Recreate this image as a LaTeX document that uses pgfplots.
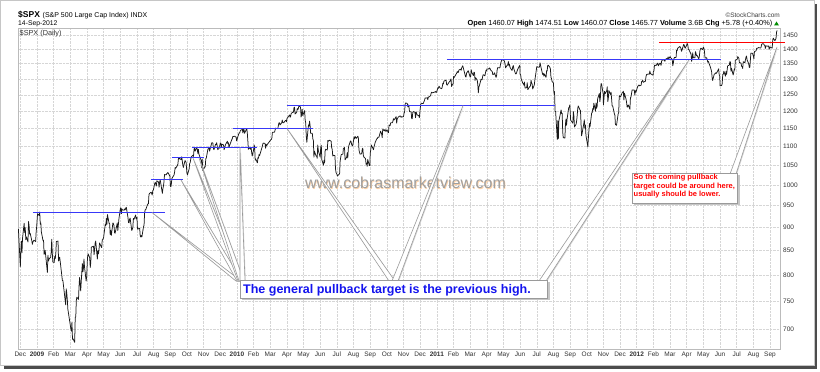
\documentclass[border=0pt]{standalone}
\usepackage{pgfplots}
\pgfplotsset{compat=1.18}
\usepackage{pgfplotstable}
\usepackage{fontspec}
\setmainfont{Liberation Sans}
\definecolor{gridc}{HTML}{D6D6D6}
\definecolor{framec}{HTML}{BBBBBB}
\definecolor{lineblue}{HTML}{3838F8}
\definecolor{txtblue}{HTML}{1414EE}
\definecolor{wedgec}{HTML}{9A9A9A}
\definecolor{tickc}{HTML}{333333}
\pgfplotstableread[row sep=\\]{
m d y\\
-2 28 896\\
-1 1 816\\ -1 2 848\\ -1 3 870\\ -1 4 845\\ -1 5 876\\ -1 8 909\\ -1 9 888\\ -1 10 899\\ -1 11 873\\ -1 12 879\\ -1 15 868\\ -1 16 913\\ -1 17 904\\ -1 18 885\\ -1 19 887\\ -1 22 871\\ -1 23 863\\ -1 24 868\\ -1 26 872\\ -1 29 869\\ -1 30 890\\ -1 31 903\\
0 2 931\\ 0 5 927\\ 0 6 935\\ 0 7 907\\ 0 8 910\\ 0 9 890\\ 0 12 871\\ 0 13 872\\ 0 14 842\\ 0 15 844\\ 0 16 850\\ 0 20 805\\ 0 21 840\\ 0 22 828\\ 0 23 832\\ 0 26 836\\ 0 27 846\\ 0 28 874\\ 0 29 845\\ 0 30 826\\
1 2 825\\ 1 3 838\\ 1 4 833\\ 1 5 845\\ 1 6 869\\ 1 9 870\\ 1 10 828\\ 1 11 834\\ 1 12 836\\ 1 13 827\\ 1 17 789\\ 1 18 789\\ 1 19 779\\ 1 20 770\\ 1 23 743\\ 1 24 773\\ 1 25 765\\ 1 26 753\\ 1 27 735\\
2 2 700\\ 2 3 696\\ 2 4 712\\ 2 5 682\\ 2 6 683\\ 2 9 677\\ 2 10 720\\ 2 11 721\\ 2 12 751\\ 2 13 757\\ 2 16 753\\ 2 17 778\\ 2 18 795\\ 2 19 784\\ 2 20 769\\ 2 23 823\\ 2 24 806\\ 2 25 813\\ 2 26 832\\ 2 27 816\\ 2 30 788\\ 2 31 798\\
3 1 811\\ 3 2 835\\ 3 3 843\\ 3 6 835\\ 3 7 815\\ 3 8 825\\ 3 9 857\\ 3 13 859\\ 3 14 841\\ 3 15 853\\ 3 16 866\\ 3 17 870\\ 3 20 832\\ 3 21 850\\ 3 22 843\\ 3 23 851\\ 3 24 866\\ 3 27 858\\ 3 28 856\\ 3 29 873\\ 3 30 873\\
4 1 878\\ 4 4 907\\ 4 5 904\\ 4 6 920\\ 4 7 907\\ 4 8 929\\ 4 11 909\\ 4 12 908\\ 4 13 884\\ 4 14 893\\ 4 15 882\\ 4 18 910\\ 4 19 908\\ 4 20 904\\ 4 21 888\\ 4 22 887\\ 4 26 910\\ 4 27 893\\ 4 28 906\\ 4 29 919\\
5 1 942\\ 5 2 945\\ 5 3 931\\ 5 4 942\\ 5 5 940\\ 5 8 939\\ 5 9 942\\ 5 10 940\\ 5 11 944\\ 5 12 946\\ 5 15 923\\ 5 16 911\\ 5 17 910\\ 5 18 918\\ 5 19 921\\ 5 22 893\\ 5 23 896\\ 5 24 900\\ 5 25 920\\ 5 26 918\\ 5 29 928\\ 5 30 919\\
6 1 923\\ 6 2 896\\ 6 6 898\\ 6 7 881\\ 6 8 879\\ 6 9 882\\ 6 10 879\\ 6 13 901\\ 6 14 905\\ 6 15 932\\ 6 16 940\\ 6 17 940\\ 6 20 951\\ 6 21 954\\ 6 22 954\\ 6 23 976\\ 6 24 979\\ 6 27 982\\ 6 28 979\\ 6 29 975\\ 6 30 986\\ 6 31 987\\
7 3 1003\\ 7 4 1006\\ 7 5 1003\\ 7 6 997\\ 7 7 1010\\ 7 10 1007\\ 7 11 994\\ 7 12 1006\\ 7 13 1013\\ 7 14 1005\\ 7 17 979\\ 7 18 990\\ 7 19 997\\ 7 20 1008\\ 7 21 1026\\ 7 24 1025\\ 7 25 1028\\ 7 26 1029\\ 7 27 1031\\ 7 28 1029\\ 7 31 1021\\
8 1 998\\ 8 2 995\\ 8 3 1003\\ 8 4 1016\\ 8 8 1025\\ 8 9 1033\\ 8 10 1044\\ 8 11 1042\\ 8 14 1049\\ 8 15 1053\\ 8 16 1068\\ 8 17 1066\\ 8 18 1068\\ 8 21 1064\\ 8 22 1072\\ 8 23 1061\\ 8 24 1050\\ 8 25 1044\\ 8 28 1062\\ 8 29 1060\\ 8 30 1057\\
9 1 1029\\ 9 2 1025\\ 9 5 1040\\ 9 6 1054\\ 9 7 1057\\ 9 8 1066\\ 9 9 1072\\ 9 12 1076\\ 9 13 1073\\ 9 14 1092\\ 9 15 1096\\ 9 16 1087\\ 9 19 1097\\ 9 20 1091\\ 9 21 1081\\ 9 22 1092\\ 9 23 1079\\ 9 26 1066\\ 9 27 1063\\ 9 28 1043\\ 9 29 1066\\ 9 30 1036\\
10 2 1042\\ 10 3 1046\\ 10 4 1045\\ 10 5 1066\\ 10 6 1069\\ 10 9 1093\\ 10 10 1093\\ 10 11 1098\\ 10 12 1087\\ 10 13 1093\\ 10 16 1110\\ 10 17 1110\\ 10 18 1109\\ 10 19 1094\\ 10 20 1091\\ 10 23 1106\\ 10 24 1105\\ 10 25 1110\\ 10 27 1091\\ 10 30 1096\\
11 1 1109\\ 11 2 1109\\ 11 3 1099\\ 11 4 1106\\ 11 7 1104\\ 11 8 1091\\ 11 9 1095\\ 11 10 1102\\ 11 11 1106\\ 11 14 1114\\ 11 15 1107\\ 11 16 1110\\ 11 17 1097\\ 11 18 1102\\ 11 21 1114\\ 11 22 1118\\ 11 23 1121\\ 11 24 1127\\ 11 28 1128\\ 11 29 1126\\ 11 30 1126\\ 11 31 1115\\
12 4 1133\\ 12 5 1137\\ 12 6 1137\\ 12 7 1142\\ 12 8 1145\\ 12 11 1147\\ 12 12 1137\\ 12 13 1146\\ 12 14 1148\\ 12 15 1136\\ 12 19 1150\\ 12 20 1138\\ 12 21 1116\\ 12 22 1092\\ 12 25 1097\\ 12 26 1092\\ 12 27 1097\\ 12 28 1084\\ 12 29 1074\\
13 1 1090\\ 13 2 1104\\ 13 3 1098\\ 13 4 1063\\ 13 5 1066\\ 13 8 1056\\ 13 9 1070\\ 13 10 1068\\ 13 11 1078\\ 13 12 1075\\ 13 16 1095\\ 13 17 1100\\ 13 18 1107\\ 13 19 1109\\ 13 22 1108\\ 13 23 1095\\ 13 24 1105\\ 13 25 1102\\ 13 26 1105\\
14 1 1116\\ 14 2 1118\\ 14 3 1119\\ 14 4 1123\\ 14 5 1139\\ 14 8 1139\\ 14 9 1140\\ 14 10 1146\\ 14 11 1151\\ 14 12 1150\\ 14 15 1150\\ 14 16 1159\\ 14 17 1166\\ 14 18 1166\\ 14 19 1160\\ 14 22 1166\\ 14 23 1174\\ 14 24 1167\\ 14 25 1166\\ 14 26 1167\\ 14 29 1173\\ 14 30 1173\\ 14 31 1169\\
15 1 1178\\ 15 5 1187\\ 15 6 1189\\ 15 7 1182\\ 15 8 1186\\ 15 9 1194\\ 15 12 1197\\ 15 13 1197\\ 15 14 1211\\ 15 15 1212\\ 15 16 1192\\ 15 19 1197\\ 15 20 1208\\ 15 21 1205\\ 15 22 1208\\ 15 23 1217\\ 15 26 1212\\ 15 27 1183\\ 15 28 1191\\ 15 29 1206\\ 15 30 1187\\
16 3 1202\\ 16 4 1173\\ 16 5 1166\\ 16 6 1128\\ 16 7 1111\\ 16 10 1160\\ 16 11 1156\\ 16 12 1171\\ 16 13 1158\\ 16 14 1136\\ 16 17 1136\\ 16 18 1121\\ 16 19 1116\\ 16 20 1071\\ 16 21 1087\\ 16 24 1074\\ 16 25 1074\\ 16 26 1068\\ 16 27 1104\\ 16 28 1089\\
17 1 1071\\ 17 2 1098\\ 17 3 1103\\ 17 4 1064\\ 17 7 1050\\ 17 8 1063\\ 17 9 1056\\ 17 10 1087\\ 17 11 1092\\ 17 14 1090\\ 17 15 1116\\ 17 16 1114\\ 17 17 1116\\ 17 18 1117\\ 17 21 1114\\ 17 22 1096\\ 17 23 1092\\ 17 24 1074\\ 17 25 1076\\ 17 28 1075\\ 17 29 1041\\ 17 30 1031\\
18 1 1027\\ 18 2 1022\\ 18 6 1028\\ 18 7 1060\\ 18 8 1070\\ 18 9 1078\\ 18 12 1079\\ 18 13 1095\\ 18 14 1095\\ 18 15 1097\\ 18 16 1064\\ 18 19 1071\\ 18 20 1083\\ 18 21 1069\\ 18 22 1094\\ 18 23 1102\\ 18 26 1115\\ 18 27 1113\\ 18 28 1106\\ 18 29 1102\\ 18 30 1101\\
19 2 1126\\ 19 3 1121\\ 19 4 1127\\ 19 5 1125\\ 19 6 1122\\ 19 9 1128\\ 19 10 1121\\ 19 11 1090\\ 19 12 1084\\ 19 13 1079\\ 19 16 1080\\ 19 17 1093\\ 19 18 1095\\ 19 19 1076\\ 19 20 1071\\ 19 23 1067\\ 19 24 1052\\ 19 25 1055\\ 19 26 1047\\ 19 27 1065\\ 19 30 1049\\ 19 31 1049\\
20 1 1080\\ 20 2 1090\\ 20 3 1104\\ 20 7 1091\\ 20 8 1099\\ 20 9 1104\\ 20 10 1110\\ 20 13 1121\\ 20 14 1121\\ 20 15 1125\\ 20 16 1125\\ 20 17 1125\\ 20 20 1142\\ 20 21 1139\\ 20 22 1134\\ 20 23 1124\\ 20 24 1148\\ 20 27 1143\\ 20 28 1147\\ 20 29 1145\\ 20 30 1141\\
21 1 1146\\ 21 4 1138\\ 21 5 1160\\ 21 6 1159\\ 21 7 1158\\ 21 8 1166\\ 21 11 1166\\ 21 12 1170\\ 21 13 1178\\ 21 14 1174\\ 21 15 1176\\ 21 18 1184\\ 21 19 1165\\ 21 20 1178\\ 21 21 1180\\ 21 22 1183\\ 21 25 1186\\ 21 26 1186\\ 21 27 1182\\ 21 28 1184\\ 21 29 1183\\
22 1 1184\\ 22 2 1194\\ 22 3 1198\\ 22 4 1221\\ 22 5 1225\\ 22 8 1223\\ 22 9 1213\\ 22 10 1219\\ 22 11 1214\\ 22 12 1199\\ 22 15 1198\\ 22 16 1178\\ 22 17 1178\\ 22 18 1197\\ 22 19 1199\\ 22 22 1197\\ 22 23 1181\\ 22 24 1198\\ 22 26 1189\\ 22 29 1187\\ 22 30 1181\\
23 1 1206\\ 23 2 1221\\ 23 3 1224\\ 23 6 1223\\ 23 7 1224\\ 23 8 1229\\ 23 9 1233\\ 23 10 1240\\ 23 13 1240\\ 23 14 1241\\ 23 15 1235\\ 23 16 1243\\ 23 17 1243\\ 23 20 1247\\ 23 21 1254\\ 23 22 1258\\ 23 23 1256\\ 23 27 1258\\ 23 28 1259\\ 23 29 1260\\ 23 30 1257\\ 23 31 1258\\
24 3 1272\\ 24 4 1270\\ 24 5 1277\\ 24 6 1274\\ 24 7 1271\\ 24 10 1269\\ 24 11 1275\\ 24 12 1286\\ 24 13 1284\\ 24 14 1293\\ 24 18 1296\\ 24 19 1282\\ 24 20 1280\\ 24 21 1283\\ 24 24 1291\\ 24 25 1292\\ 24 26 1297\\ 24 27 1300\\ 24 28 1276\\ 24 31 1286\\
25 1 1308\\ 25 2 1304\\ 25 3 1307\\ 25 4 1310\\ 25 7 1319\\ 25 8 1324\\ 25 9 1321\\ 25 10 1322\\ 25 11 1329\\ 25 14 1332\\ 25 15 1328\\ 25 16 1336\\ 25 17 1340\\ 25 18 1343\\ 25 22 1315\\ 25 23 1307\\ 25 24 1306\\ 25 25 1319\\ 25 28 1327\\
26 1 1306\\ 26 2 1308\\ 26 3 1330\\ 26 4 1321\\ 26 7 1311\\ 26 8 1322\\ 26 9 1320\\ 26 10 1295\\ 26 11 1304\\ 26 14 1296\\ 26 15 1282\\ 26 16 1256\\ 26 17 1274\\ 26 18 1279\\ 26 21 1299\\ 26 22 1297\\ 26 23 1298\\ 26 24 1309\\ 26 25 1314\\ 26 28 1310\\ 26 29 1319\\ 26 30 1328\\ 26 31 1326\\
27 1 1332\\ 27 4 1333\\ 27 5 1332\\ 27 6 1336\\ 27 7 1334\\ 27 8 1329\\ 27 11 1324\\ 27 12 1314\\ 27 13 1315\\ 27 14 1315\\ 27 15 1320\\ 27 18 1305\\ 27 19 1312\\ 27 20 1330\\ 27 21 1337\\ 27 25 1336\\ 27 26 1347\\ 27 27 1355\\ 27 28 1360\\ 27 29 1364\\
28 2 1361\\ 28 3 1357\\ 28 4 1348\\ 28 5 1336\\ 28 6 1340\\ 28 9 1347\\ 28 10 1357\\ 28 11 1343\\ 28 12 1348\\ 28 13 1338\\ 28 16 1329\\ 28 17 1328\\ 28 18 1340\\ 28 19 1344\\ 28 20 1333\\ 28 23 1317\\ 28 24 1316\\ 28 25 1320\\ 28 26 1326\\ 28 27 1331\\ 28 31 1345\\
29 1 1315\\ 29 2 1313\\ 29 3 1300\\ 29 6 1286\\ 29 7 1285\\ 29 8 1280\\ 29 9 1290\\ 29 10 1271\\ 29 13 1272\\ 29 14 1288\\ 29 15 1266\\ 29 16 1268\\ 29 17 1272\\ 29 20 1278\\ 29 21 1296\\ 29 22 1287\\ 29 23 1284\\ 29 24 1268\\ 29 27 1281\\ 29 28 1297\\ 29 29 1308\\ 29 30 1321\\
30 1 1340\\ 30 5 1338\\ 30 6 1339\\ 30 7 1353\\ 30 8 1344\\ 30 11 1320\\ 30 12 1314\\ 30 13 1318\\ 30 14 1309\\ 30 15 1316\\ 30 18 1305\\ 30 19 1327\\ 30 20 1326\\ 30 21 1344\\ 30 22 1345\\ 30 25 1338\\ 30 26 1332\\ 30 27 1305\\ 30 28 1301\\ 30 29 1292\\
31 1 1287\\ 31 2 1254\\ 31 3 1260\\ 31 4 1200\\ 31 5 1199\\ 31 8 1119\\ 31 9 1172\\ 31 10 1121\\ 31 11 1173\\ 31 12 1179\\ 31 15 1204\\ 31 16 1193\\ 31 17 1194\\ 31 18 1140\\ 31 19 1124\\ 31 22 1123\\ 31 23 1162\\ 31 24 1177\\ 31 25 1159\\ 31 26 1177\\ 31 29 1211\\ 31 30 1212\\ 31 31 1219\\
32 1 1204\\ 32 2 1174\\ 32 6 1165\\ 32 7 1199\\ 32 8 1186\\ 32 9 1154\\ 32 12 1162\\ 32 13 1172\\ 32 14 1188\\ 32 15 1209\\ 32 16 1216\\ 32 19 1204\\ 32 20 1202\\ 32 21 1166\\ 32 22 1129\\ 32 23 1136\\ 32 26 1163\\ 32 27 1175\\ 32 28 1151\\ 32 29 1160\\ 32 30 1131\\
33 3 1099\\ 33 4 1124\\ 33 5 1144\\ 33 6 1164\\ 33 7 1155\\ 33 10 1195\\ 33 11 1196\\ 33 12 1208\\ 33 13 1204\\ 33 14 1224\\ 33 17 1200\\ 33 18 1225\\ 33 19 1209\\ 33 20 1215\\ 33 21 1238\\ 33 24 1254\\ 33 25 1229\\ 33 26 1242\\ 33 27 1284\\ 33 28 1285\\ 33 31 1253\\
34 1 1219\\ 34 2 1238\\ 34 3 1261\\ 34 4 1253\\ 34 7 1262\\ 34 8 1275\\ 34 9 1229\\ 34 10 1239\\ 34 11 1263\\ 34 14 1251\\ 34 15 1258\\ 34 16 1237\\ 34 17 1216\\ 34 18 1216\\ 34 21 1193\\ 34 22 1188\\ 34 23 1161\\ 34 25 1159\\ 34 28 1192\\ 34 29 1196\\ 34 30 1247\\
35 1 1245\\ 35 2 1244\\ 35 5 1257\\ 35 6 1258\\ 35 7 1261\\ 35 8 1234\\ 35 9 1255\\ 35 12 1236\\ 35 13 1225\\ 35 14 1212\\ 35 15 1215\\ 35 16 1219\\ 35 19 1206\\ 35 20 1241\\ 35 21 1243\\ 35 22 1254\\ 35 23 1265\\ 35 27 1265\\ 35 28 1249\\ 35 29 1263\\ 35 30 1258\\
36 3 1277\\ 36 4 1278\\ 36 5 1281\\ 36 6 1278\\ 36 9 1280\\ 36 10 1292\\ 36 11 1292\\ 36 12 1296\\ 36 13 1289\\ 36 17 1293\\ 36 18 1308\\ 36 19 1314\\ 36 20 1315\\ 36 23 1316\\ 36 24 1315\\ 36 25 1326\\ 36 26 1318\\ 36 27 1316\\ 36 30 1313\\ 36 31 1312\\
37 1 1324\\ 37 2 1326\\ 37 3 1345\\ 37 6 1344\\ 37 7 1347\\ 37 8 1350\\ 37 9 1352\\ 37 10 1343\\ 37 13 1352\\ 37 14 1351\\ 37 15 1344\\ 37 16 1358\\ 37 17 1362\\ 37 21 1362\\ 37 22 1358\\ 37 23 1363\\ 37 24 1366\\ 37 27 1368\\ 37 28 1373\\ 37 29 1366\\
38 1 1374\\ 38 2 1370\\ 38 5 1364\\ 38 6 1343\\ 38 7 1352\\ 38 8 1366\\ 38 9 1371\\ 38 12 1371\\ 38 13 1396\\ 38 14 1394\\ 38 15 1403\\ 38 16 1404\\ 38 19 1409\\ 38 20 1405\\ 38 21 1402\\ 38 22 1392\\ 38 23 1397\\ 38 26 1416\\ 38 27 1413\\ 38 28 1405\\ 38 29 1403\\ 38 30 1408\\
39 2 1419\\ 39 3 1414\\ 39 4 1399\\ 39 5 1398\\ 39 9 1382\\ 39 10 1358\\ 39 11 1368\\ 39 12 1387\\ 39 13 1370\\ 39 16 1370\\ 39 17 1391\\ 39 18 1385\\ 39 19 1377\\ 39 20 1378\\ 39 23 1367\\ 39 24 1372\\ 39 25 1391\\ 39 26 1400\\ 39 27 1403\\ 39 30 1398\\
40 1 1406\\ 40 2 1403\\ 40 3 1392\\ 40 4 1369\\ 40 7 1370\\ 40 8 1364\\ 40 9 1355\\ 40 10 1358\\ 40 11 1353\\ 40 14 1338\\ 40 15 1331\\ 40 16 1325\\ 40 17 1305\\ 40 18 1295\\ 40 21 1316\\ 40 22 1316\\ 40 23 1318\\ 40 24 1320\\ 40 25 1318\\ 40 29 1333\\ 40 30 1313\\ 40 31 1310\\
41 1 1278\\ 41 4 1279\\ 41 5 1285\\ 41 6 1315\\ 41 7 1315\\ 41 8 1325\\ 41 11 1309\\ 41 12 1324\\ 41 13 1315\\ 41 14 1329\\ 41 15 1343\\ 41 18 1345\\ 41 19 1357\\ 41 20 1356\\ 41 21 1325\\ 41 22 1335\\ 41 25 1313\\ 41 26 1320\\ 41 27 1332\\ 41 28 1329\\ 41 29 1362\\
42 2 1365\\ 42 3 1374\\ 42 5 1368\\ 42 6 1354\\ 42 9 1352\\ 42 10 1341\\ 42 11 1341\\ 42 12 1334\\ 42 13 1357\\ 42 16 1353\\ 42 17 1363\\ 42 18 1372\\ 42 19 1376\\ 42 20 1363\\ 42 23 1350\\ 42 24 1338\\ 42 25 1337\\ 42 26 1361\\ 42 27 1386\\ 42 30 1385\\ 42 31 1379\\
43 1 1376\\ 43 2 1366\\ 43 3 1391\\ 43 6 1394\\ 43 7 1402\\ 43 8 1403\\ 43 9 1403\\ 43 10 1405\\ 43 13 1404\\ 43 14 1403\\ 43 15 1405\\ 43 16 1415\\ 43 17 1418\\ 43 20 1418\\ 43 21 1413\\ 43 22 1413\\ 43 23 1402\\ 43 24 1411\\ 43 27 1410\\ 43 28 1410\\ 43 29 1411\\ 43 30 1399\\ 43 31 1407\\
44 4 1404\\ 44 5 1403\\ 44 6 1432\\ 44 7 1438\\ 44 10 1429\\ 44 11 1433\\ 44 12 1437\\ 44 13 1460\\ 44 14 1466\\
}\spx

\newcommand{\callwedge}[6]{%
  \fill[gray!35] ($(#1,#2)+(0.8,0.8)$) -- ($(#3,#4)+(0.8,0.8)$) -- ($(#5,#6)+(0.8,0.8)$) -- cycle;
  \filldraw[fill=white,draw=wedgec,line width=0.6pt,line join=round] (#1,#2) -- (#3,#4) -- (#5,#6) -- cycle;}

\usetikzlibrary{calc}

\begin{document}
\begin{tikzpicture}[x=1pt,y=1pt]
% page and frame
\fill[white] (0,0) rectangle (820,372);
\begin{scope}[shift={(0,372)}, yscale=-1]
\fill[black!70] (4,365.5) rectangle (817,369.5);
\fill[black!70] (813.5,4) rectangle (817,369.5);
\fill[white] (1.2,1.2) rectangle (813.5,365.5);
\draw[gray!45, line width=1pt] (0.5,0.5) rectangle (814,366);
\end{scope}

\begin{semilogyaxis}[
  at={(18pt,23pt)}, anchor=south west, scale only axis,
  width=762pt, height=321pt,
  xmin=-1.14, xmax=44.6, ymin=666, ymax=1475,
  clip=false,
  axis line style={draw=framec, line width=0.6pt},
  major tick length=0pt,
  grid=major,
  grid style={densely dotted, draw=gridc, line width=0.5pt},
  xtick={-1,0,...,44},
  xticklabels={Dec,\textbf{2009},Feb,Mar,Apr,May,Jun,Jul,Aug,Sep,Oct,Nov,Dec,\textbf{2010},Feb,Mar,Apr,May,Jun,Jul,Aug,Sep,Oct,Nov,Dec,\textbf{2011},Feb,Mar,Apr,May,Jun,Jul,Aug,Sep,Oct,Nov,Dec,\textbf{2012},Feb,Mar,Apr,May,Jun,Jul,Aug,Sep},
  xticklabel style={font=\fontsize{6.5}{7}\selectfont, text=tickc, inner sep=1pt, yshift=-1.5pt},
  ytick={700,750,800,850,900,950,1000,1050,1100,1150,1200,1250,1300,1350,1400,1450},
  yticklabels={700,750,800,850,900,950,1000,1050,1100,1150,1200,1250,1300,1350,1400,1450},
  yticklabel pos=right,
  yticklabel style={font=\fontsize{6.5}{7}\selectfont, text=tickc, anchor=west, inner sep=1pt, xshift=2pt},
]
\addplot[black!90, line width=0.75pt, line join=round, no marks] table[x expr=\thisrow{m}+(\thisrow{d}-1)/30.5, y=y] {\spx};
\addplot[lineblue, line width=0.9pt, no marks] coordinates {(-0.24,934) (7.68,934)};
\addplot[lineblue, line width=0.9pt, no marks] coordinates {(6.84,1013) (8.76,1013)};
\addplot[lineblue, line width=0.9pt, no marks] coordinates {(8.10,1071) (10.02,1071)};
\addplot[lineblue, line width=0.9pt, no marks] coordinates {(9.30,1098) (13.21,1098)};
\addplot[lineblue, line width=0.9pt, no marks] coordinates {(11.76,1150) (16.57,1150)};
\addplot[lineblue, line width=0.9pt, no marks] coordinates {(15.00,1217) (31.09,1217)};
\addplot[lineblue, line width=0.9pt, no marks] coordinates {(24.61,1363) (41.06,1363)};
\addplot[red, line width=1.1pt, no marks] coordinates {(37.33,1422) (44.90,1422)};
\end{semilogyaxis}

\begin{scope}[shift={(0,372)}, yscale=-1]
% header
\node[anchor=base west, inner sep=0pt] at (18,18) {{\fontsize{8.5}{9}\selectfont\bfseries \$SPX} {\fontsize{7}{8}\selectfont (S\&P 500 Large Cap Index) INDX}};
\node[anchor=base west, inner sep=0pt, font=\fontsize{6.8}{7}\selectfont] at (18,25.8) {14-Sep-2012};
\node[anchor=base west, inner sep=0pt, font=\fontsize{7.3}{8}\selectfont, text=black!80] at (19.5,35.8) {\$SPX (Daily)};
\node[anchor=base east, inner sep=0pt, font=\fontsize{6.5}{7}\selectfont, text=black!75] at (780,17.3) {©StockCharts.com};
\node[anchor=base east, inner sep=0pt, font=\fontsize{7.35}{8}\selectfont] at (772.5,25.8) {\textbf{Open} 1460.07 \textbf{High} 1474.51 \textbf{Low} 1460.07 \textbf{Close} 1465.77 \textbf{Volume} 3.6B \textbf{Chg} +5.78 (+0.40\%)};
\fill[green!55!black] (774,25.5) -- (779,25.5) -- (776.5,21.5) -- cycle;

% watermark
\node[font=\fontsize{16}{18}\selectfont, text=orange!35] at (406.1,183.7) {www.cobrasmarketview.com};
\node[font=\fontsize{16}{18}\selectfont, text=gray!75] at (405.5,183) {www.cobrasmarketview.com};

% wedges for box 1
\callwedge{152}{212.5}{236}{281}{241}{281}
\callwedge{181}{180}{237}{281}{242}{281}
\callwedge{193}{158}{238}{281}{243}{281}
\callwedge{199}{158}{239}{281}{244}{281}
\callwedge{240}{147.5}{240}{281}{245}{281}
\callwedge{287}{128.5}{389}{281}{395}{281}
\callwedge{463}{105.6}{392}{281}{398}{281}
\callwedge{689}{60}{539}{281}{546}{281}
% box 1
\fill[gray!45] (242,282) rectangle (549.5,300.5);
\filldraw[fill=white, draw=wedgec, line width=0.6pt] (240,280) rectangle (547,298);
\node[anchor=base west, inner sep=0pt, text=txtblue, font=\fontsize{12.5}{14}\selectfont\bfseries] at (243,293.5) {The general pullback target is the previous high.};

% box 2
\callwedge{777}{47}{730}{174}{736}{174}
\fill[gray!45] (634,175) rectangle (739.5,205.5);
\filldraw[fill=white, draw=wedgec, line width=0.6pt] (632,173) rectangle (737,203);
\node[anchor=base west, inner sep=0pt, text=red, font=\fontsize{7.5}{8}\selectfont\bfseries] at (633.5,179.6) {So the coming pullback};
\node[anchor=base west, inner sep=0pt, text=red, font=\fontsize{7.5}{8}\selectfont\bfseries] at (633.5,188.2) {target could be around here,};
\node[anchor=base west, inner sep=0pt, text=red, font=\fontsize{7.5}{8}\selectfont\bfseries] at (633.5,196.8) {usually should be lower.};
\end{scope}
\end{tikzpicture}
\end{document}
